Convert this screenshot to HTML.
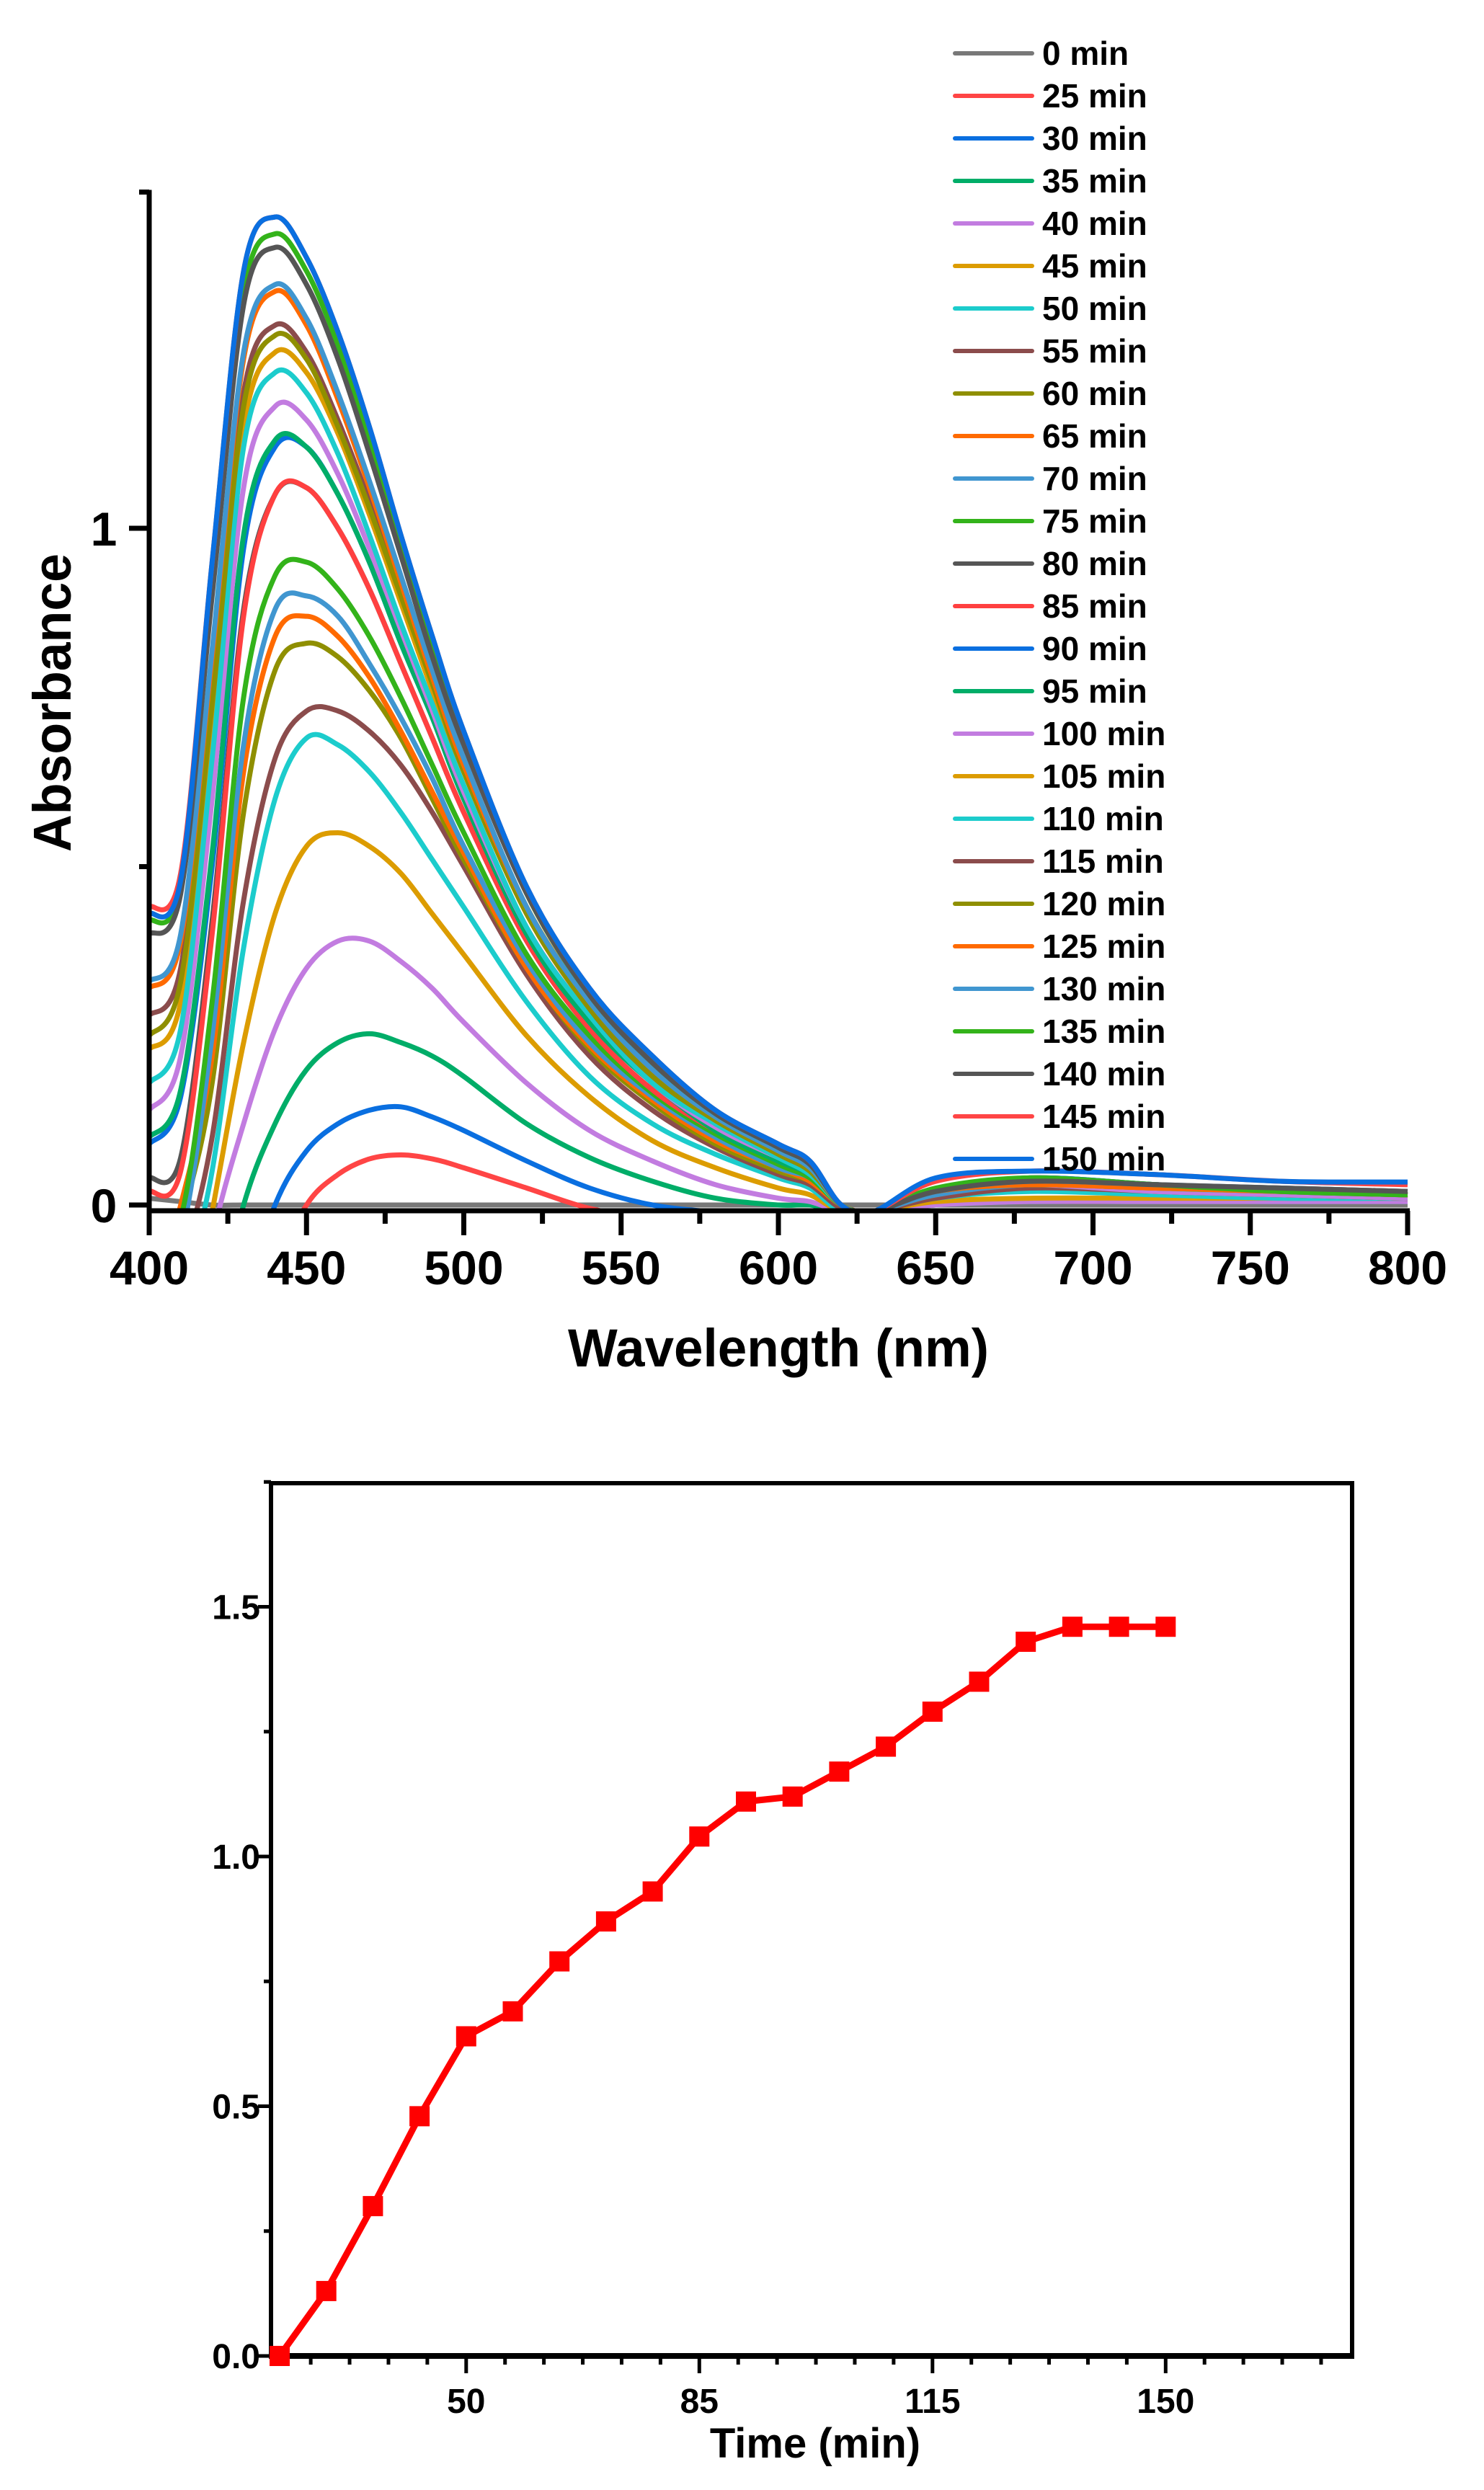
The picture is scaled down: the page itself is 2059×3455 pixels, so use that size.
<!DOCTYPE html>
<html><head><meta charset="utf-8"><style>
html,body{margin:0;padding:0;background:#fff;}
svg{display:block;font-family:"Liberation Sans",Arial,sans-serif;font-weight:bold;}
</style></head><body>
<svg id="root" width="2059" height="3455" viewBox="0 0 2059 3455" xmlns="http://www.w3.org/2000/svg">
<defs><clipPath id="clipTop"><rect x="207" y="250" width="1760" height="1430"/></clipPath></defs>
<g id="topChart"></g>
<g id="bottomChart"></g>
</svg>
<script>
// ---------- Spectra chart data ----------
const wavelengths = [400,410,420,430,440,450,460,470,480,490,500,520,540,560,580,600,610,620,630,650,680,720,760,800];
const seriesLabels = ['0 min','25 min','30 min','35 min','40 min','45 min','50 min','55 min','60 min','65 min','70 min','75 min','80 min','85 min','90 min','95 min','100 min','105 min','110 min','115 min','120 min','125 min','130 min','135 min','140 min','145 min','150 min'];
const seriesColors = ['#787878','#ff4545','#0a6fe0','#00ad68','#c27ce0','#dc9c00','#1ccccc','#8b4c4c','#8f8f00','#ff6a00','#4096d0','#33b31a','#555555','#ff4040','#0a6fe0','#00ad68','#c27ce0','#dc9c00','#1ccccc','#8b4c4c','#8f8f00','#ff6a00','#4096d0','#33b31a','#555555','#ff4545','#0a6fe0'];
const s0   = [.01,.005,0,0,0,0,0,0,0,0,0,0,0,0,0,0,0,0,0,0,0,0,0,0];
const s25  = [-.6,-.5,-.4,-.3,-.1,0,.045,.068,.074,.068,.055,.025,-.005,-.02,-.02,-.02,-.02,-.02,-.02,-.01,-.01,-.01,-.01,-.01];
const s30  = [-.6,-.5,-.4,-.15,0,.08,.12,.14,.145,.13,.11,.065,.025,0,-.01,-.01,-.01,-.02,-.02,-.01,-.01,-.01,-.01,-.01];
const s35  = [-.6,-.5,-.2,0,.12,.2,.24,.253,.24,.22,.19,.12,.07,.035,.01,0,0,-.01,-.01,0,.005,.005,.005,.005];
const s40  = [-.5,-.3,-.05,.12,.26,.35,.39,.39,.36,.32,.27,.18,.11,.065,.03,.01,.005,-.01,-.01,0,.005,.005,.005,.005];
const s45  = [-.5,-.25,-.01,.24,.43,.53,.55,.53,.49,.43,.37,.25,.16,.095,.055,.025,.015,-.01,-.01,.005,.01,.01,.01,.01];
const s50  = [-.4,-.15,.05,.38,.6,.69,.68,.64,.58,.51,.44,.3,.19,.12,.075,.04,.025,-.01,-.01,.01,.02,.015,.01,.01];
const s55  = [-.3,-.1,.1,.45,.66,.73,.73,.7,.65,.58,.5,.34,.22,.14,.085,.045,.03,-.005,-.01,.01,.025,.02,.015,.01];
const s60  = [-.2,-.03,.18,.58,.79,.83,.81,.76,.69,.6,.51,.35,.23,.15,.09,.05,.035,0,-.01,.015,.03,.02,.015,.01];
const s65  = [-.15,0,.22,.64,.84,.87,.84,.78,.7,.61,.52,.35,.235,.155,.095,.055,.035,0,-.01,.015,.03,.02,.015,.01];
const s70  = [-.1,-.05,.25,.68,.88,.9,.87,.8,.72,.63,.53,.36,.24,.16,.1,.055,.04,0,-.01,.015,.03,.025,.02,.015];
const s75  = [-.05,-.02,.3,.75,.93,.95,.91,.84,.75,.65,.55,.37,.25,.165,.105,.06,.04,0,-.01,.02,.04,.03,.02,.015];
const s80  = [.04,.07,.42,.88,1.05,1.06,1.0,.91,.8,.69,.58,.39,.26,.17,.11,.065,.045,0,-.01,.02,.035,.03,.02,.015];
const s85  = [.02,.05,.4,.87,1.05,1.06,1.0,.91,.8,.69,.58,.39,.26,.17,.11,.065,.045,0,-.01,.02,.04,.03,.025,.02];
const s90  = [.09,.16,.5,.97,1.12,1.12,1.05,.95,.83,.72,.6,.4,.27,.18,.11,.065,.045,0,-.01,.02,.04,.03,.02,.015];
const s95  = [.1,.17,.52,.99,1.13,1.12,1.05,.95,.83,.72,.6,.4,.27,.18,.11,.065,.045,0,-.01,.02,.03,.02,.015,.01];
const s100 = [.14,.22,.6,1.06,1.18,1.16,1.08,.97,.85,.73,.61,.41,.28,.18,.115,.07,.05,0,-.01,.02,.03,.02,.015,.01];
const s105 = [.23,.3,.7,1.15,1.26,1.23,1.14,1.02,.89,.76,.64,.43,.29,.19,.12,.075,.05,0,-.01,.02,.03,.025,.02,.015];
const s110 = [.18,.26,.66,1.12,1.23,1.2,1.11,.99,.86,.74,.62,.41,.28,.18,.12,.07,.045,0,-.01,.02,.035,.025,.02,.015];
const s115 = [.28,.35,.76,1.2,1.3,1.26,1.16,1.04,.91,.78,.65,.44,.29,.19,.125,.075,.05,0,-.01,.02,.035,.03,.02,.015];
const s120 = [.25,.33,.74,1.18,1.285,1.25,1.15,1.03,.9,.77,.64,.43,.29,.19,.125,.075,.05,0,-.01,.02,.03,.025,.02,.015];
const s125 = [.32,.39,.81,1.25,1.35,1.3,1.19,1.06,.92,.78,.65,.44,.3,.2,.13,.08,.055,0,-.01,.02,.03,.025,.02,.015];
const s130 = [.33,.4,.82,1.26,1.36,1.31,1.2,1.07,.93,.79,.66,.44,.3,.2,.13,.08,.055,0,-.01,.02,.035,.03,.025,.02];
const s135 = [.42,.47,.92,1.35,1.435,1.38,1.27,1.13,.97,.82,.69,.46,.31,.21,.135,.085,.06,0,-.01,.025,.04,.03,.02,.015];
const s140 = [.40,.46,.9,1.33,1.415,1.36,1.25,1.11,.96,.81,.68,.46,.31,.21,.135,.085,.06,0,-.01,.02,.035,.03,.025,.02];
const s145 = [.44,.49,.95,1.38,1.46,1.4,1.29,1.15,.99,.84,.7,.47,.32,.22,.14,.09,.065,0,-.01,.035,.05,.045,.035,.03];
const s150 = [.43,.48,.95,1.38,1.46,1.4,1.29,1.15,.99,.84,.7,.47,.32,.22,.14,.09,.065,0,-.01,.04,.05,.045,.035,.034];
const spectra = [s0,s25,s30,s35,s40,s45,s50,s55,s60,s65,s70,s75,s80,s85,s90,s95,s100,s105,s110,s115,s120,s125,s130,s135,s140,s145,s150];
const xTickValues = [400,450,500,550,600,650,700,750,800];
const yTickValues = [0,1];

// ---------- Kinetics chart data ----------
const timeLabels = ['50','85','115','150'];
const timeLabelIndex = [4,9,14,19];
const absValues = [0,0.13,0.30,0.48,0.64,0.69,0.79,0.87,0.93,1.04,1.11,1.12,1.17,1.22,1.29,1.35,1.43,1.46,1.46,1.46];
const absTickLabels = ['0.0','0.5','1.0','1.5'];
const absTickValues = [0,0.5,1.0,1.5];

const NS='http://www.w3.org/2000/svg';
function mk(tag, attrs, parent){const e=document.createElementNS(NS,tag);for(const k in attrs)e.setAttribute(k,attrs[k]);parent.appendChild(e);return e;}

const xT = w => 207 + (w-400)*4.365;
const yT = a => 1672 - a*939;
function smooth(pts){
  let d='M'+pts[0][0].toFixed(1)+','+pts[0][1].toFixed(1);
  for(let i=0;i<pts.length-1;i++){
    const p0=pts[i-1]||pts[i],p1=pts[i],p2=pts[i+1],p3=pts[i+2]||p2;
    const c1=[p1[0]+(p2[0]-p0[0])/6,p1[1]+(p2[1]-p0[1])/6];
    const c2=[p2[0]-(p3[0]-p1[0])/6,p2[1]-(p3[1]-p1[1])/6];
    d+='C'+c1[0].toFixed(1)+','+c1[1].toFixed(1)+' '+c2[0].toFixed(1)+','+c2[1].toFixed(1)+' '+p2[0].toFixed(1)+','+p2[1].toFixed(1);
  }
  return d;
}
const topG=document.getElementById('topChart');
const curves=mk('g',{'clip-path':'url(#clipTop)'},topG);


spectra.forEach((s,i)=>{
  const p=mk('path',{d:smooth(s.map((v,j)=>[xT(wavelengths[j]),yT(v)])),fill:'none',stroke:seriesColors[i],'stroke-width':7,'stroke-linejoin':'round'},curves);
  
  
});
const AXY=1680;
const axT=mk('g',{stroke:'#000','stroke-width':7,fill:'none'},topG);


mk('line',{x1:207,y1:yT(1.5),x2:207,y2:AXY+34},axT);
mk('line',{x1:204,y1:AXY,x2:xT(800)+3,y2:AXY},axT);
yTickValues.forEach(v=>mk('line',{x1:179,y1:yT(v),x2:207,y2:yT(v)},axT));
[0.5,1.5].forEach(v=>mk('line',{x1:193,y1:yT(v)+(v===1.5?3:0),x2:207,y2:yT(v)+(v===1.5?3:0)},axT));
for(let w=400;w<=800;w+=25){mk('line',{x1:xT(w),y1:AXY,x2:xT(w),y2:(w%50===0?AXY+34:AXY+18)},axT);}
xTickValues.forEach(w=>{const t=mk('text',{x:xT(w),y:1782,'text-anchor':'middle','font-size':66},topG);t.textContent=w;

});
yTickValues.forEach(v=>{const t=mk('text',{x:144,y:yT(v)+24,'text-anchor':'middle','font-size':66},topG);t.textContent=v;

});
const xt=mk('text',{x:1080,y:1896,'text-anchor':'middle','font-size':74,textLength:584,lengthAdjust:'spacingAndGlyphs'},topG);xt.textContent='Wavelength (nm)';


const yt=mk('text',{x:0,y:0,'text-anchor':'middle','font-size':74,textLength:414,lengthAdjust:'spacingAndGlyphs',transform:'translate(98,975) rotate(-90)'},topG);yt.textContent='Absorbance';


const leg=mk('g',{},topG);


seriesLabels.forEach((lab,i)=>{
  const y=74+i*59.0;
  const g=mk('g',{},leg);
  
  
  mk('line',{x1:1325,y1:y,x2:1432,y2:y,stroke:seriesColors[i],'stroke-width':6,'stroke-linecap':'round'},g);
  const t=mk('text',{x:1446,y:y+16,'font-size':46},g);t.textContent=lab;
});

// ---------- bottom ----------
const xB = i => 388 + i*64.7;
const yB = v => 3269 - v*693;
const botG=document.getElementById('bottomChart');
const axB=mk('g',{stroke:'#000',fill:'none'},botG);


mk('rect',{x:376,y:2058,width:1500,height:1211,'stroke-width':6},axB);
mk('line',{x1:373,y1:3269,x2:1879,y2:3269,'stroke-width':8},axB);
for(let k=-6;k<=24;k++){const i=4+k*5/6;const x=xB(i);if(x<382||x>1870)continue;
  mk('line',{x1:x,y1:3269,x2:x,y2:(((k%6)+6)%6===0?3293:3281),'stroke-width':5},axB);}
for(let v=0;v<=1.75;v+=0.25){mk('line',{x1:(Math.abs(v*2-Math.round(v*2))<1e-6?358:366),y1:yB(v),x2:376,y2:yB(v),'stroke-width':5},axB);}
timeLabels.forEach((l,j)=>{const t=mk('text',{x:xB(timeLabelIndex[j]),y:3348,'text-anchor':'middle','font-size':48},botG);t.textContent=l;

});
absTickLabels.forEach((l,j)=>{const t=mk('text',{x:361,y:yB(absTickValues[j])+17,'text-anchor':'end','font-size':48},botG);t.textContent=l;

});
const bt=mk('text',{x:1131,y:3410,'text-anchor':'middle','font-size':58},botG);bt.textContent='Time (min)';


const ln=mk('polyline',{points:absValues.map((v,i)=>xB(i)+','+yB(v)).join(' '),fill:'none',stroke:'#ff0000','stroke-width':9,'stroke-linejoin':'round'},botG);


absValues.forEach((v,i)=>{const r=mk('rect',{x:xB(i)-14,y:yB(v)-14,width:28,height:28,fill:'#ff0000'},botG);

});
</script>
</body></html>
